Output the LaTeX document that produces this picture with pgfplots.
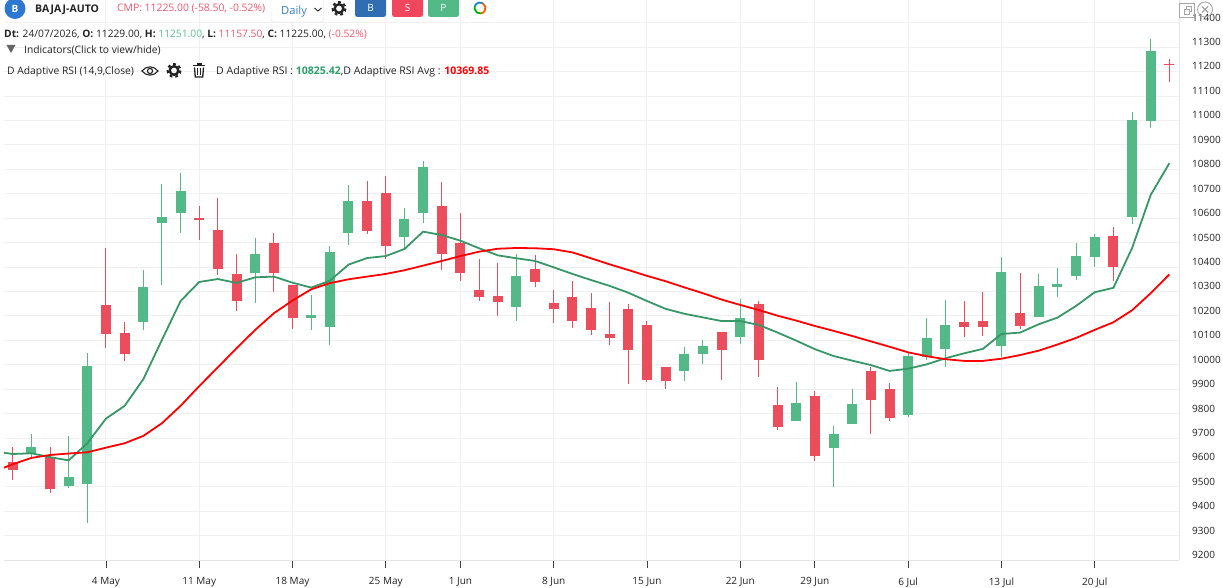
\documentclass[border=0pt]{standalone}
\usepackage{fontspec}
\setmainfont{Open Sans}
\usepackage{pgfplots}
\usepackage{pgfplotstable}
\pgfplotsset{compat=1.18}
\definecolor{cgreen}{HTML}{53B987}
\definecolor{cred}{HTML}{EB4D5C}
\definecolor{lgreen}{HTML}{379768}
\definecolor{lred}{HTML}{FF0000}
\definecolor{gridc}{HTML}{F0F0F0}
\definecolor{txt}{HTML}{222222}
\definecolor{pink}{HTML}{F0566E}
\definecolor{tgreen}{HTML}{5CBF92}
\definecolor{bgreen}{HTML}{2E9E6B}
\definecolor{cblue}{HTML}{2E77D0}
\definecolor{bblue}{HTML}{306DB3}
\definecolor{bred}{HTML}{F2455E}
\definecolor{dblue}{HTML}{3B7DD8}
\pgfplotstableread{
x high low top bot
1 9717 9624 9664 9638
3 9709 9496 9541 9506
4 10048 9354 9995 9512
7 10388 10143 10319 10175
8 10740 10327 10605 10580
9 10785 10540 10711 10621
13 10519 10253 10454 10376
16 10286 10143 10204 10193
17 10486 10081 10462 10155
18 10736 10490 10670 10541
21 10642 10480 10597 10523
22 10834 10580 10810 10621
27 10454 10179 10364 10238
36 10073 9934 10044 9975
37 10102 10004 10077 10044
39 10269 10085 10192 10114
42 9930 9770 9844 9770
44 9750 9500 9716 9660
45 9901 9758 9840 9758
48 10047 9788 10036 9795
49 10192 10020 10110 10034
50 10265 9993 10163 10065
53 10441 10032 10380 10077
55 10372 10197 10323 10197
56 10396 10278 10331 10319
57 10499 10347 10445 10364
58 10535 10400 10523 10441
60 11035 10576 11002 10605
61 11333 10969 11284 10998
}\greenT
\pgfplotstableread{
x high low top bot
0 9664 9529 9602 9570
2 9664 9477 9624 9492
5 10478 10069 10245 10128
6 10175 10016 10130 10044
10 10650 10511 10601 10593
11 10683 10368 10552 10392
12 10454 10220 10372 10261
14 10539 10298 10499 10376
15 10327 10147 10327 10193
19 10752 10535 10670 10548
20 10773 10433 10703 10486
23 10748 10388 10650 10454
24 10621 10343 10499 10376
25 10433 10261 10306 10278
26 10417 10200 10282 10257
28 10449 10319 10392 10339
29 10306 10171 10253 10229
30 10343 10151 10278 10179
31 10294 10122 10233 10143
32 10257 10081 10126 10110
33 10249 9922 10229 10061
34 10179 9930 10163 9938
35 9991 9901 9991 9934
38 10134 9938 10134 10061
40 10261 9950 10249 10020
41 9909 9733 9836 9746
43 9893 9607 9873 9627
46 9993 9717 9975 9856
47 9926 9770 9901 9783
51 10261 10114 10175 10155
52 10298 10118 10180 10155
54 10376 10147 10212 10159
59 10564 10343 10527 10400
62 11251 11157 11229 11225
}\redT
\pgfplotstableread{
x y
-1 9646
0 9635
1 9638
2 9622
3 9609
4 9679
5 9780
6 9832
7 9941
8 10102
9 10261
10 10339
11 10351
12 10335
13 10358
14 10361
15 10336
16 10316
17 10344
18 10410
19 10437
20 10445
21 10474
22 10545
23 10531
24 10508
25 10477
26 10448
27 10436
28 10425
29 10399
30 10372
31 10347
32 10323
33 10295
34 10261
35 10229
36 10209
37 10194
38 10179
39 10179
40 10163
41 10132
42 10099
43 10064
44 10036
45 10017
46 9999
47 9975
48 9984
49 10002
50 10027
51 10047
52 10065
53 10126
54 10132
55 10166
56 10193
57 10241
58 10297
59 10315
60 10477
61 10695
62 10825
}\rsiT
\pgfplotstableread{
x y
-1 9563
0 9593
1 9619
2 9631
3 9637
4 9642
5 9661
6 9679
7 9709
8 9761
9 9832
10 9913
11 9990
12 10068
13 10143
14 10211
15 10263
16 10309
17 10334
18 10350
19 10361
20 10372
21 10387
22 10406
23 10425
24 10445
25 10463
26 10475
27 10478
28 10477
29 10473
30 10460
31 10436
32 10411
33 10388
34 10364
35 10342
36 10317
37 10293
38 10267
39 10245
40 10224
41 10201
42 10181
43 10159
44 10139
45 10118
46 10096
47 10074
48 10051
49 10035
50 10023
51 10016
52 10016
53 10025
54 10040
55 10058
56 10083
57 10110
58 10143
59 10174
60 10223
61 10293
62 10370
}\avgT
\newcommand{\fs}[1]{\fontsize{#1}{#1}\selectfont}
\newcommand{\gear}[2]{%
  \draw[txt,line width=2.4pt] (#1,#2) circle[radius=4.3];
  \draw[txt,line width=2pt,dash pattern=on 2.9pt off 2.9pt] (#1,#2) circle[radius=6.4];
}
\begin{document}
\begin{tikzpicture}[x=1pt,y=-1pt]
\path[use as bounding box] (0,0) rectangle (1223,588);
\begin{axis}[
  at={(4pt,-560.3pt)}, anchor=south west,
  width=1175pt, height=560.3pt, scale only axis,
  xmin=-0.466, xmax=62.52, ymin=9200, ymax=11492.9,
  axis x line=bottom, axis y line=right,
  axis line style={-,draw=gridc!95!black,line width=1pt},
  xtick={5,10,15,20,24,29,34,39,43,48,53,58},
  xticklabels={4 May,11 May,18 May,25 May,1 Jun,8 Jun,15 Jun,22 Jun,29 Jun,6 Jul,13 Jul,20 Jul},
  ytick={9200,9300,9400,9500,9600,9700,9800,9900,10000,10100,10200,10300,10400,10500,10600,10700,10800,10900,11000,11100,11200,11300,11400},
  scaled y ticks=false,
  /pgf/number format/.cd, 1000 sep={}, assume math mode=true, /pgfplots/.cd,
  grid=major, grid style={draw=gridc,line width=1pt},
  major tick length=8pt, tick align=outside,
  xtick style={draw=black!75,line width=0.8pt},
  ytick style={draw=none},
  xticklabel style={font=\fs{10}, text=txt, inner sep=0pt, yshift=-9pt},
  yticklabel style={font=\fs{10}, text=txt, anchor=west, inner sep=0pt, xshift=5pt, yshift=5.2pt},
  clip=true,
]
\addplot[no marks,draw=none,forget plot,error bars/.cd,y dir=both,y explicit,error mark=none,error bar style={cgreen,line width=1pt}]
  table[x=x,y=top,y error plus expr=\thisrow{high}-\thisrow{top},y error minus expr=\thisrow{top}-\thisrow{low}] {\greenT};
\addplot[no marks,draw=none,forget plot,error bars/.cd,y dir=minus,y explicit,error mark=none,error bar style={cgreen,line width=10pt}]
  table[x=x,y=top,y error minus expr=\thisrow{top}-\thisrow{bot}] {\greenT};
\addplot[no marks,draw=none,forget plot,error bars/.cd,y dir=both,y explicit,error mark=none,error bar style={cred,line width=1pt}]
  table[x=x,y=top,y error plus expr=\thisrow{high}-\thisrow{top},y error minus expr=\thisrow{top}-\thisrow{low}] {\redT};
\addplot[no marks,draw=none,forget plot,error bars/.cd,y dir=minus,y explicit,error mark=none,error bar style={cred,line width=10pt}]
  table[x=x,y=top,y error minus expr=\thisrow{top}-\thisrow{bot}] {\redT};
\addplot[no marks,lgreen,line width=1.8pt,line join=round] table[x=x,y=y] {\rsiT};
\addplot[no marks,lred,line width=1.8pt,line join=round] table[x=x,y=y] {\avgT};
\end{axis}
% header
\fill[cblue] (15,8.5) circle[radius=10.5];
\node[white,anchor=center,font=\fs{10}\bfseries] at (15,9) {B};
\node[txt,anchor=west,inner sep=0pt,font=\fs{10.5}\bfseries] at (35,9.5) {BAJAJ-AUTO};
\node[pink,anchor=west,inner sep=0pt,font=\fs{10.35}] at (117,9) {CMP: 11225.00 (-58.50, -0.52\%)};
\draw[black!12,fill=white,rounded corners=3pt] (271,-4) rectangle (323.5,22);
\node[dblue,anchor=west,inner sep=0pt,font=\fs{11.2}] at (281,12) {Daily};
\draw[txt,line width=0.9pt] (314.5,8) -- (318,11) -- (321.5,8);
\gear{339}{8.5}
\fill[bblue,rounded corners=2.5pt] (355,-3) rectangle (386,17);
\node[white,font=\fs{10}] at (370.5,8) {B};
\fill[bred,rounded corners=2.5pt] (392,-3) rectangle (423,17);
\node[white,font=\fs{10}] at (407.5,8) {S};
\fill[cgreen,rounded corners=2.5pt] (428,-3) rectangle (459,17);
\node[white,font=\fs{10}] at (443.5,8) {P};
\draw[black!10,fill=white,rounded corners=3pt] (466,-3) rectangle (493,18);
\draw[line width=1.8pt,green!70!black] (480,8) ++(80:5.5) arc[start angle=80,end angle=200,radius=5.5];
\draw[line width=1.8pt,cyan!70!blue] (480,8) ++(200:5.5) arc[start angle=200,end angle=300,radius=5.5];
\draw[line width=1.8pt,orange!70!red] (480,8) ++(300:5.5) arc[start angle=300,end angle=440,radius=5.5];
\node[txt,anchor=west,inner sep=0pt,font=\fs{10.25}] at (4,34.5) {\textbf{Dt:} 24/07/2026, \textbf{O:} 11229.00, \textbf{H:} \textcolor{tgreen}{11251.00}, \textbf{L:} \textcolor{pink}{11157.50}, \textbf{C:} 11225.00, \textcolor{pink}{(-0.52\%)}};
\fill[black!60] (6.5,45) -- (15.5,45) -- (11,53) -- cycle;
\node[txt,anchor=west,inner sep=0pt,font=\fs{10.25}] at (24,50) {Indicators(Click to view/hide)};
\node[txt,anchor=west,inner sep=0pt,font=\fs{10.3}] at (7,71.5) {D Adaptive RSI (14,9,Close)};
\draw[txt,line width=1.1pt] (142,71) .. controls (146,65.5) and (154,65.5) .. (158,71) .. controls (154,76.5) and (146,76.5) .. cycle;
\draw[txt,line width=1.1pt] (150,71) circle[radius=2.6];
\gear{174}{70.5}
\fill[txt] (193,65) rectangle (205,66.5);
\fill[txt] (196.5,63.5) rectangle (201.5,65);
\draw[txt,line width=1.3pt] (194.5,67.5) -- (195.3,77) -- (202.7,77) -- (203.5,67.5);
\draw[txt,line width=0.8pt] (197.5,68.5) -- (197.5,75.5) (200.5,68.5) -- (200.5,75.5);
\node[txt,anchor=west,inner sep=0pt,font=\fs{10.52}] at (216,71.5) {D Adaptive RSI : \textcolor{bgreen}{\textbf{10825.42}},D Adaptive RSI Avg : \textcolor{lred}{\textbf{10369.85}}};
% top-right icons
\draw[black!35,line width=0.9pt] (1179.5,3) rectangle (1194.5,17);
\draw[black!35,line width=0.8pt] (1184,9) rectangle (1189,14) (1186,9) -- (1186,6.5) -- (1191,6.5) -- (1191,11.5) -- (1189,11.5);
\draw[black!35,line width=0.9pt] (1205,9.5) circle[radius=7.5];
\draw[black!35,line width=1.1pt] (1202,6.5) -- (1208,12.5) (1208,6.5) -- (1202,12.5);
\end{tikzpicture}
\end{document}
